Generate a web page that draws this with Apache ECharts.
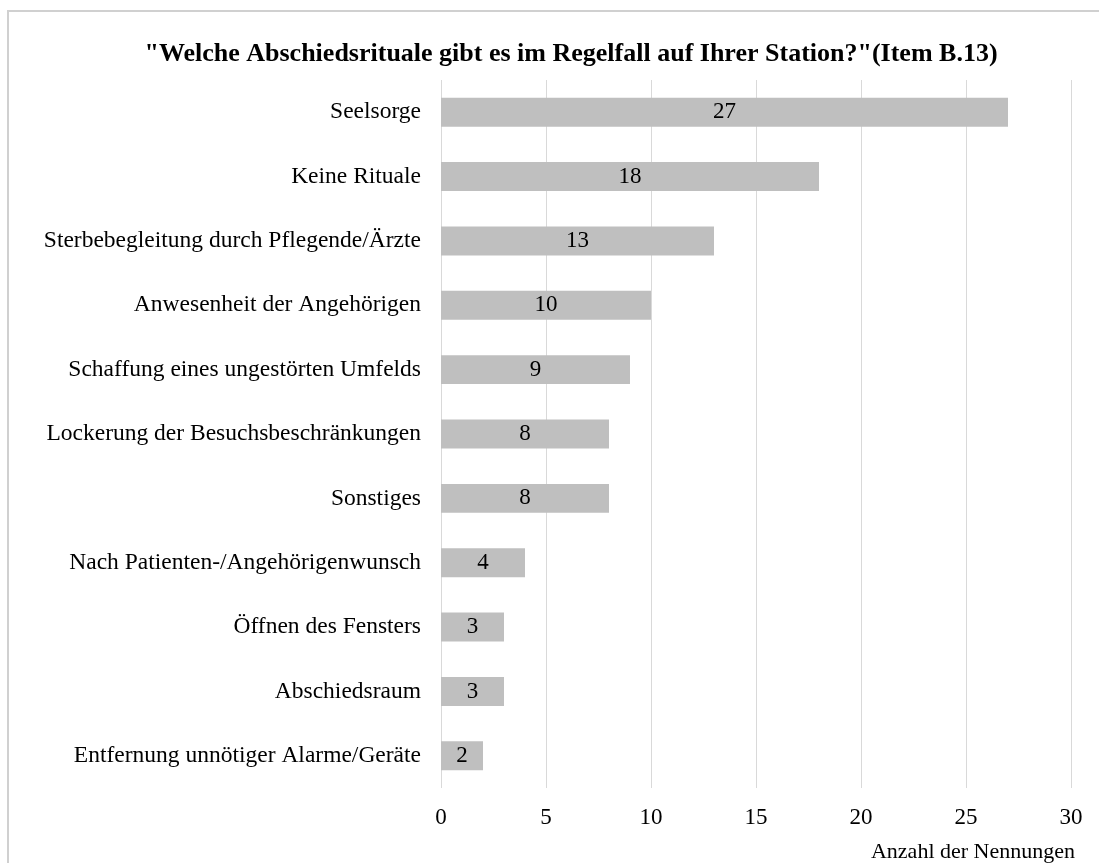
<!DOCTYPE html>
<html>
<head>
<meta charset="utf-8">
<script src="https://cdn.jsdelivr.net/npm/echarts@6/dist/echarts.min.js"></script>
<style>
  html, body { margin: 0; padding: 0; background: #fff; }
  #chart { width: 1099px; height: 863px; }
</style>
</head>
<body>
<div id="chart"></div>
<script>
// Abschiedsrituale – Anzahl der Nennungen (top to bottom)
const categories = [
  'Seelsorge',
  'Keine Rituale',
  'Sterbebegleitung durch Pflegende/Ärzte',
  'Anwesenheit der Angehörigen',
  'Schaffung eines ungestörten Umfelds',
  'Lockerung der Besuchsbeschränkungen',
  'Sonstiges',
  'Nach Patienten-/Angehörigenwunsch',
  'Öffnen des Fensters',
  'Abschiedsraum',
  'Entfernung unnötiger Alarme/Geräte'
];
const counts = [27, 18, 13, 10, 9, 8, 8, 4, 3, 3, 2];
const xTicks = [0, 5, 10, 15, 20, 25, 30];

const serif = '"Liberation Serif", "Times New Roman", serif';

const chart = echarts.init(document.getElementById('chart'));
chart.setOption({
  animation: false,
  backgroundColor: '#ffffff',
  graphic: [{
    type: 'rect',
    shape: { x: 8, y: 11, width: 1200, height: 1000 },
    style: { fill: 'none', stroke: '#d0d0d0', lineWidth: 2 },
    silent: true
  }],
  title: [{
    text: '"Welche Abschiedsrituale gibt es im Regelfall auf Ihrer Station?"(Item B.13)',
    left: 566,
    textAlign: 'center',
    top: 36,
    textStyle: { fontFamily: serif, fontSize: 26, fontWeight: 'bold', color: '#000' }
  }, {
    text: 'Anzahl der Nennungen',
    right: 19,
    top: 836,
    textStyle: { fontFamily: serif, fontSize: 22, fontWeight: 'normal', color: '#000' }
  }],
  grid: { left: 441, right: 28, top: 80, bottom: 75, containLabel: false },
  xAxis: {
    type: 'value',
    min: xTicks[0],
    max: xTicks[xTicks.length - 1],
    interval: xTicks[1] - xTicks[0],
    axisLine: { show: false },
    axisTick: { show: false },
    splitLine: { show: true, lineStyle: { color: '#d9d9d9', width: 1 } },
    axisLabel: { fontFamily: serif, fontSize: 23, color: '#000', margin: 18 }
  },
  yAxis: {
    type: 'category',
    data: categories,
    inverse: true,
    axisLine: { show: false },
    axisTick: { show: false },
    axisLabel: { fontFamily: serif, fontSize: 23.5, color: '#000', margin: 20 }
  },
  series: [{
    type: 'bar',
    data: counts,
    barCategoryGap: '55%',
    itemStyle: { color: '#bfbfbf' },
    label: {
      show: true,
      position: 'inside',
      fontFamily: serif,
      fontSize: 23,
      color: '#000'
    }
  }]
});
</script>
</body>
</html>
